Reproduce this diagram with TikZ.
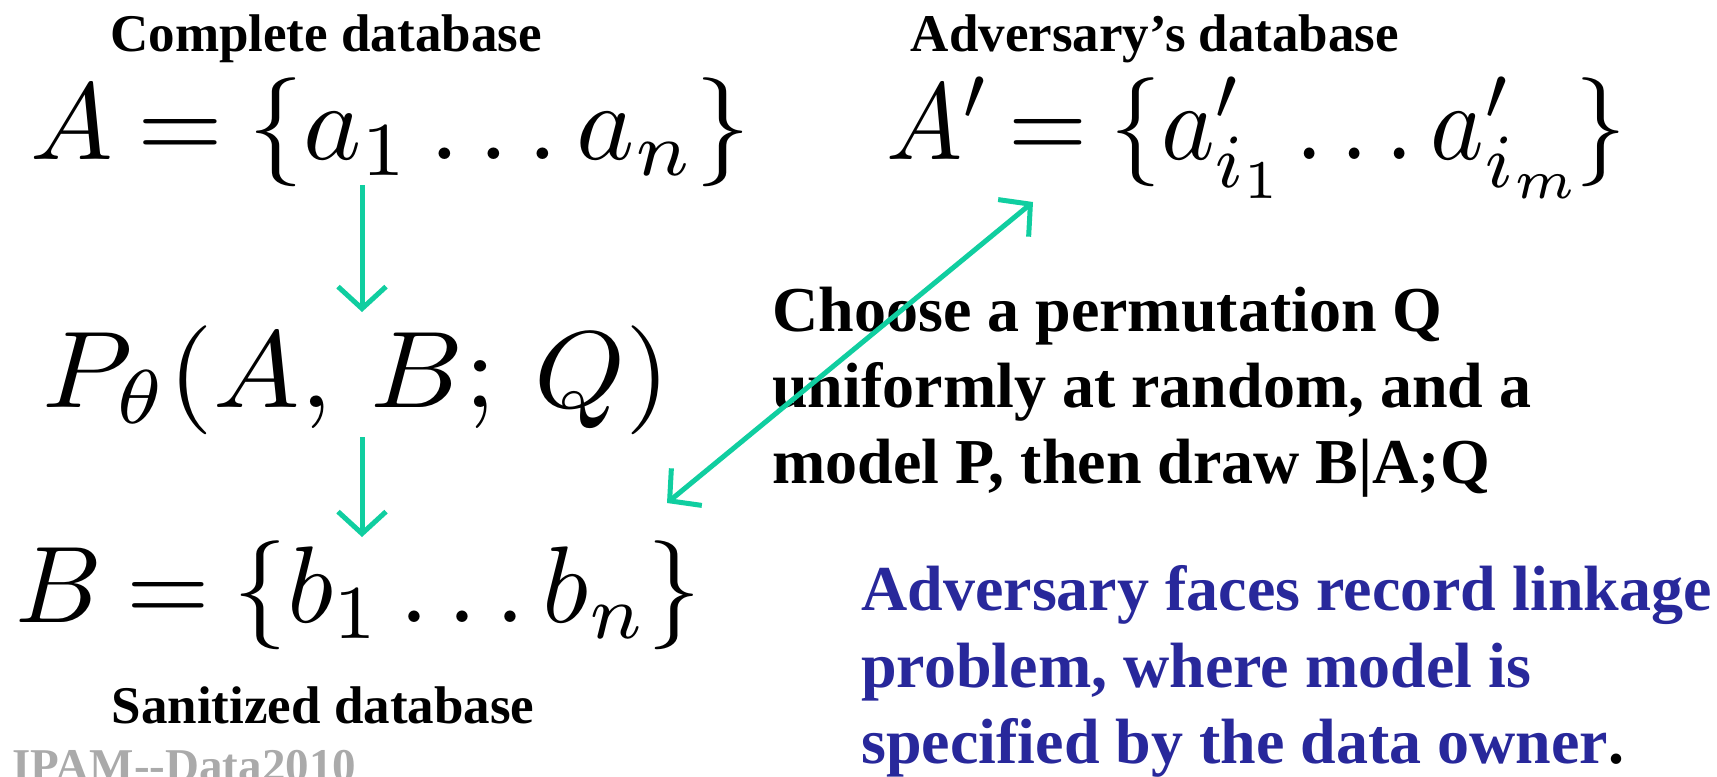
\documentclass[tikz,border=0pt]{standalone}
\usepackage{fontspec}
\setmainfont{Liberation Serif}
\usetikzlibrary{arrows.meta}
\definecolor{arrowteal}{RGB}{16,206,160}
\definecolor{noteblue}{RGB}{40,40,155}
\definecolor{markgray}{RGB}{170,170,170}
\newsavebox{\fmbox}
\newlength{\fmht}
% fit a formula to a given width, keeping a fixed vertical scale
\newcommand{\fitformula}[2]{%
  \sbox{\fmbox}{$\thickmuskip=4mu\relax #2$}%
  \setlength{\fmht}{\ht\fmbox}%
  \resizebox{#1}{5.45\fmht}{\usebox{\fmbox}}}
\begin{document}
\begin{tikzpicture}[x=0.5pt,y=-0.5pt,
  mathbox/.style={anchor=base west,inner sep=0pt},
  title/.style={anchor=base,inner sep=0pt,font=\fontsize{26.5}{30}\selectfont\bfseries},
  blackline/.style={anchor=base west,inner sep=0pt,font=\fontsize{32}{38}\selectfont\bfseries},
  blueline/.style={anchor=base west,inner sep=0pt,text=noteblue,font=\fontsize{32}{38}\selectfont\bfseries},
  flow/.style={draw=arrowteal,line width=2.5pt,-{Straight Barb[length=11pt,width=24pt,line width=2.5pt]}},
  flowboth/.style={draw=arrowteal,line width=2.5pt,{Straight Barb[length=11pt,width=24pt,line width=2.5pt]}-{Straight Barb[length=11pt,width=24pt,line width=2.5pt]}}
]
\useasboundingbox (0,0) rectangle (1717,776);

% titles
\node[title] (tcomplete) at (326,51.5) {Complete database};
\node[title] (tadv) at (1155,51.5) {Adversary’s database};
\node[title] (tsan) at (323,723) {Sanitized database};

% formulas
\node[mathbox] (A) at (30,159) {\fitformula{360pt}{A = \{a_1 \ldots a_n\}}};
\node[mathbox] (Ap) at (886,159) {\fitformula{370pt}{\scriptspace=0pt A' = \{a'_{i_1}\,\ldotp\ldotp\ldotp a'_{i_m}\}}};
\node[mathbox] (P) at (42,407) {\fitformula{314pt}{P_\theta(A,\,B;\,Q)}};
\node[mathbox] (B) at (15,622) {\fitformula{343pt}{B = \{b_1 \ldots b_n\}}};

% explanation text
\node[blackline] (c1) at (772,331) {Choose a permutation Q};
\node[blackline] (c2) at (772,407) {uniformly at random, and a};
\node[blackline] (c3) at (772,483) {model P, then draw B|A;Q};

\node[blueline] (n1) at (861,610) {Adversary faces record linkage};
\node[blueline] (n2) at (861,687) {problem, where model is};
\node[blueline] (n3) at (861,763) {specified by the data owner\textcolor{black}{.}};

% watermark
\node[anchor=base west,inner sep=0pt,text=markgray,font=\fontsize{23.5}{28}\selectfont\bfseries] (ipam) at (12,781) {IPAM{-}{-}Data2010};

% connectors
\coordinate (a1) at (362,185);
\coordinate (p1) at (362,312);
\coordinate (p2) at (362,437);
\coordinate (b1) at (362,537);
\coordinate (bend) at (667,503);
\coordinate (apend) at (1033,202);
\draw[flow] (a1) -- (p1);
\draw[flow] (p2) -- (b1);
\draw[flowboth] (bend) -- (apend);
\end{tikzpicture}
\end{document}
